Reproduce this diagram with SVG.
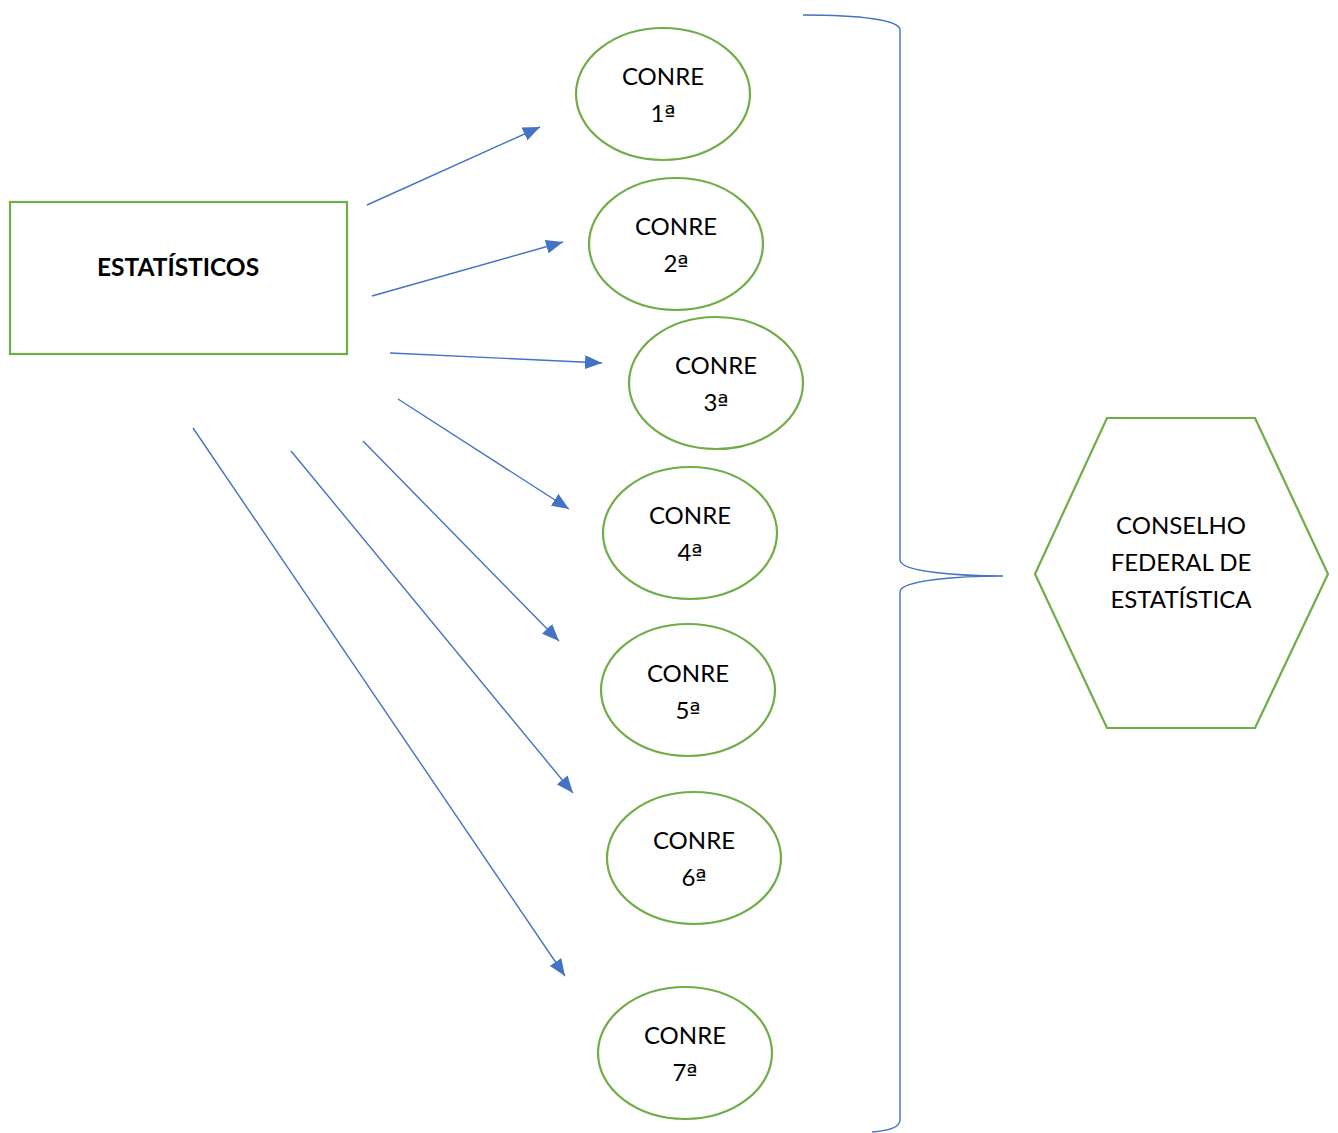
<svg xmlns="http://www.w3.org/2000/svg" width="1338" height="1133" viewBox="0 0 1338 1133">
<style>
.n{fill:#fff;stroke:#70AD47;stroke-width:2.2}
.t{font-family:Lato,"Open Sans",sans-serif;font-size:24px;fill:#000;text-anchor:middle}
.o{font-family:"DejaVu Sans",sans-serif;font-size:24px}
.b{font-family:Lato,"Open Sans",sans-serif;font-size:24.5px;font-weight:bold;fill:#000;text-anchor:middle}
.c{fill:none;stroke:#4472C4;stroke-width:1.4}
</style>
<defs>
<marker id="ah" markerUnits="userSpaceOnUse" markerWidth="18" markerHeight="14" refX="17" refY="7" orient="auto">
<path d="M0,0 L17,7 L0,14 Z" fill="#4472C4"/>
</marker>
</defs>
<rect width="1338" height="1133" fill="#fff"/>
<g id="connectors">
<line class="c" x1="367" y1="205" x2="540" y2="127" marker-end="url(#ah)"/>
<line class="c" x1="372" y1="296" x2="563" y2="242" marker-end="url(#ah)"/>
<line class="c" x1="390" y1="353" x2="602" y2="363" marker-end="url(#ah)"/>
<line class="c" x1="398" y1="399" x2="569" y2="509" marker-end="url(#ah)"/>
<line class="c" x1="363" y1="441" x2="559" y2="641" marker-end="url(#ah)"/>
<line class="c" x1="291" y1="451" x2="573" y2="793" marker-end="url(#ah)"/>
<line class="c" x1="193" y1="428" x2="565" y2="976" marker-end="url(#ah)"/>
<path id="brace" class="c" d="M803,15 C860,15 900,20 900,30 L900,560 C900,572 960,576 1003,576 C960,576 900,580 900,592 L900,1120 C900,1128 885,1131 872,1132"/>
</g>
<g id="estatisticos">
<rect class="n" x="10" y="202" width="337" height="152"/>
<text class="b" x="178" y="276">ESTATÍSTICOS</text>
</g>
<g id="conre1">
<ellipse class="n" cx="663" cy="94" rx="87" ry="66"/>
<text class="t" x="663" y="85">CONRE</text><text class="t" x="663" y="122">1<tspan class="o">ª</tspan></text>
</g>
<g id="conre2">
<ellipse class="n" cx="676" cy="244" rx="87" ry="66"/>
<text class="t" x="676" y="235">CONRE</text><text class="t" x="676" y="272">2<tspan class="o">ª</tspan></text>
</g>
<g id="conre3">
<ellipse class="n" cx="716" cy="383" rx="87" ry="66"/>
<text class="t" x="716" y="374">CONRE</text><text class="t" x="716" y="411">3<tspan class="o">ª</tspan></text>
</g>
<g id="conre4">
<ellipse class="n" cx="690" cy="533" rx="87" ry="66"/>
<text class="t" x="690" y="524">CONRE</text><text class="t" x="690" y="561">4<tspan class="o">ª</tspan></text>
</g>
<g id="conre5">
<ellipse class="n" cx="688" cy="690" rx="87" ry="66"/>
<text class="t" x="688" y="682">CONRE</text><text class="t" x="688" y="719">5<tspan class="o">ª</tspan></text>
</g>
<g id="conre6">
<ellipse class="n" cx="694" cy="858" rx="87" ry="66"/>
<text class="t" x="694" y="849">CONRE</text><text class="t" x="694" y="886">6<tspan class="o">ª</tspan></text>
</g>
<g id="conre7">
<ellipse class="n" cx="685" cy="1053" rx="87" ry="66"/>
<text class="t" x="685" y="1044">CONRE</text><text class="t" x="685" y="1081">7<tspan class="o">ª</tspan></text>
</g>
<g id="conselho">
<polygon class="n" points="1107,418 1255,418 1328,574 1255,728 1107,728 1035,574"/>
<text class="t" x="1181" y="534">CONSELHO</text>
<text class="t" x="1181" y="571">FEDERAL DE</text>
<text class="t" x="1181" y="608">ESTATÍSTICA</text>
</g>
</svg>
